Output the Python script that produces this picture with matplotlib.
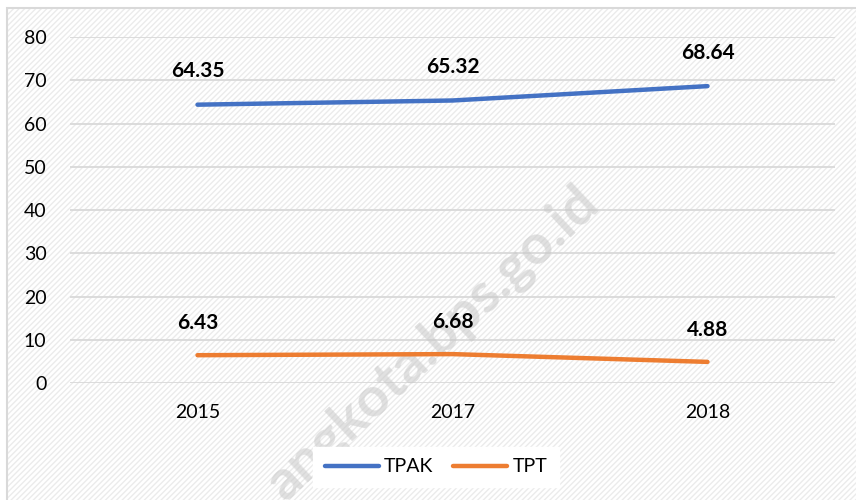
import matplotlib.pyplot as plt
from matplotlib.patches import Rectangle

# data
years = ['2015', '2017', '2018']
tpak = [64.35, 65.32, 68.64]
tpt = [6.43, 6.68, 4.88]
y_ticks = [0, 10, 20, 30, 40, 50, 60, 70, 80]

blue = '#4472c4'
orange = '#ed7d31'
grid = '#d9d9d9'

plt.rcParams['font.family'] = ['Lato', 'DejaVu Sans']

fig = plt.figure(figsize=(8.56, 5.0), dpi=100)

# chart area: light hatched background with a thin grey frame (cut off at right/bottom)
bg = Rectangle((7 / 856, -0.05), 1.1, 1 - 8 / 500 + 0.05, transform=fig.transFigure,
               facecolor='white', edgecolor='#ebebeb', hatch='//////', linewidth=0, zorder=-3)
fig.patches.append(bg)
frame = Rectangle((7 / 856, -0.05), 1.1, 1 - 8 / 500 + 0.05, transform=fig.transFigure,
                  facecolor='none', edgecolor=grid, linewidth=1.5, zorder=-2)
fig.patches.append(frame)

ax = fig.add_axes([70 / 856, 117 / 500, 765 / 856, 346 / 500])
ax.patch.set_visible(False)

x = list(range(len(years)))
ax.plot(x, tpak, color=blue, lw=3.2, solid_capstyle='round', label='TPAK', zorder=3)
ax.plot(x, tpt, color=orange, lw=3.2, solid_capstyle='round', label='TPT', zorder=3)

for xi, v in zip(x, tpak):
    ax.annotate(f'{v:.2f}', (xi, v), xytext=(0, 24), textcoords='offset points',
                ha='center', va='center', fontsize=15, fontweight='bold', color='black', zorder=4)
for xi, v in zip(x, tpt):
    ax.annotate(f'{v:.2f}', (xi, v), xytext=(0, 23), textcoords='offset points',
                ha='center', va='center', fontsize=15, fontweight='bold', color='black', zorder=4)

ax.set_xlim(-0.5, 2.5)
ax.set_ylim(0, 80)
ax.set_xticks(x)
ax.set_xticklabels(years)
ax.set_yticks(y_ticks)
ax.grid(axis='y', color=grid, lw=1.3)
ax.set_axisbelow(True)
for s in ax.spines.values():
    s.set_visible(False)
ax.tick_params(axis='both', length=0, labelsize=14, colors='black')
ax.tick_params(axis='y', pad=17)
ax.tick_params(axis='x', pad=15)

leg = ax.legend(loc='center', bbox_to_anchor=(436 / 856, 1 - 467 / 500),
                bbox_transform=fig.transFigure, ncol=2, fontsize=14, frameon=True,
                handlelength=2.8, handletextpad=0.25, columnspacing=1.0,
                borderpad=0.6, fancybox=False)
leg.get_frame().set_facecolor('white')
leg.get_frame().set_edgecolor('white')
leg.get_frame().set_alpha(1)

# watermark, under the lines and labels; runs off the bottom edge as in the source
ax.text(0.505, 0.315, 'angkota.bps.go.id', transform=fig.transFigure, rotation=43,
        fontsize=40, fontweight='bold', color='#c8c8c8', alpha=0.55,
        ha='center', va='center', zorder=1, clip_on=False)

fig.savefig('out.png', dpi=100)
